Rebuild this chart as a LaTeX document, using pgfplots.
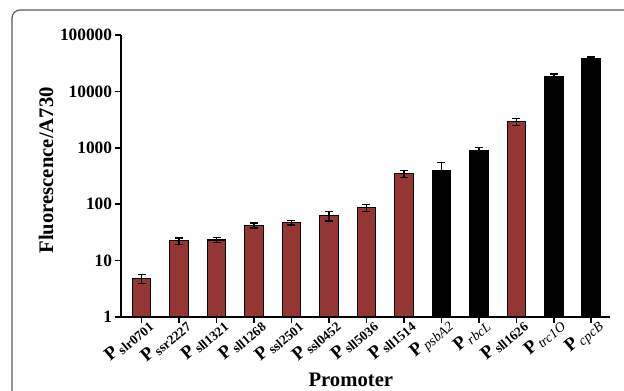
\documentclass[border=0pt]{standalone}
\usepackage{fontspec}
\setmainfont{Liberation Serif}
\usepackage{pgfplots}
\pgfplotsset{compat=1.18}
\definecolor{barred}{HTML}{943634}
\newcommand{\prom}[1]{{\fontsize{14}{14}\selectfont\bfseries P}\,\raisebox{-0.5ex}{\fontsize{10}{10}\selectfont\bfseries #1}}
\newcommand{\promi}[1]{{\fontsize{14}{14}\selectfont\bfseries P}\,\raisebox{-0.5ex}{\fontsize{10.4}{10}\selectfont\mdseries\itshape #1}}
\begin{document}
\begin{tikzpicture}
\useasboundingbox (0,0) rectangle (468pt,292.5pt);
\draw[color=black!65, line width=0.9pt, rounded corners=6pt] (9pt,-5pt) -- (9pt,285pt) -- (475pt,285pt);
\begin{axis}[
  at={(90.75pt,54.75pt)}, anchor=south west,
  scale only axis, width=366.75pt, height=211.5pt,
  ymode=log, ymin=1, ymax=100000,
  xmin=-0.55, xmax=12.5,
  axis lines=left,
  axis line style={line width=1.5pt, -},
  ytick={1,10,100,1000,10000,100000},
  yticklabels={1,10,100,1000,10000,100000},
  yminorticks=false,
  xtick={0,...,12},
  xticklabels={\prom{slr0701},\prom{ssr2227},\prom{sll1321},\prom{sll1268},\prom{ssl2501},\prom{ssl0452},\prom{sll5036},\prom{sll1514},\promi{psbA2},\promi{rbcL},\prom{sll1626},\promi{trc1O},\promi{cpcB}},
  xticklabel style={rotate=40, anchor=north east, inner sep=0pt, xshift=3pt},
  xticklabel shift=-3pt,
  yticklabel style={font=\fontsize{13}{14}\selectfont\bfseries, inner sep=2pt},
  tick align=outside, major tick length=4.5pt,
  tick style={line width=1.2pt, black},
  ybar, bar width=13.9pt, bar shift=0pt,
  xlabel={Promoter},
  xlabel style={font=\fontsize{15.5}{16}\selectfont\bfseries, at={(axis description cs:0.47,-0.223)}, anchor=center},
  ylabel={Fluorescence/A730},
  ylabel style={font=\fontsize{15.5}{16}\selectfont\bfseries, at={(axis description cs:-0.153,0.52)}, anchor=center},
  clip=false,
]
\addplot[fill=barred, draw=black, line width=0.8pt,
  error bars/.cd, y dir=both, y explicit,
  error bar style={line width=1.1pt, black},
  error mark options={rotate=90, mark size=3pt, line width=1.1pt, black}]
  coordinates {
  (0,4.8) +- (0,0.9)
  (1,22.3) +- (0,3)
  (2,23.2) +- (0,2.3)
  (3,42.3) +- (0,4.5)
  (4,47) +- (0,4.5)
  (5,62.5) +- (0,12)
  (6,86.7) +- (0,12)
  (7,347) +- (0,50)
  (10,2904) +- (0,430)
  };
\addplot[fill=black, draw=black, line width=0.8pt,
  error bars/.cd, y dir=both, y explicit,
  error bar style={line width=1.1pt, black},
  error mark options={rotate=90, mark size=3pt, line width=1.1pt, black}]
  coordinates {
  (8,388) +- (0,165)
  (9,902) +- (0,120)
  (11,18530) +- (0,1800)
  (12,37500) +- (0,3200)
  };
\end{axis}
\end{tikzpicture}
\end{document}
